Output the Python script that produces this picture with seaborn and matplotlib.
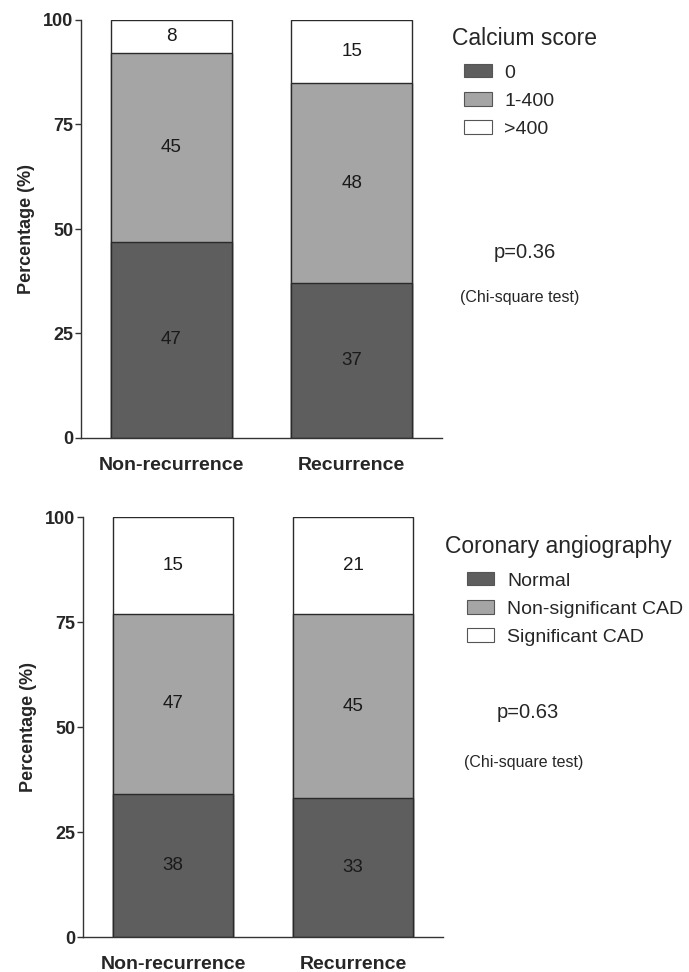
import numpy as np
import pandas as pd
import matplotlib
matplotlib.use("Agg")
import matplotlib.pyplot as plt
from matplotlib.patches import Patch
from matplotlib.offsetbox import HPacker, DrawingArea
import seaborn as sns

# ---------------- data ----------------
groups = ["Non-recurrence", "Recurrence"]

calcium_levels = ["0", "1-400", ">400"]
calcium_zero = [47, 37]
calcium_mid = [45, 48]
calcium_high = [8, 15]
calcium_labels_zero = [47, 37]
calcium_labels_mid = [45, 48]
calcium_labels_high = [8, 15]

angio_levels = ["Normal", "Non-significant CAD", "Significant CAD"]
angio_normal = [34, 33]        # bar heights as drawn
angio_nonsig = [43, 44]
angio_sig = [23, 23]
angio_labels_normal = [38, 33]  # numbers printed on bars
angio_labels_nonsig = [47, 45]
angio_labels_sig = [15, 21]

yticks = [0, 25, 50, 75, 100]
p_texts = ["p=0.36", "p=0.63"]
test_text = "(Chi-square test)"
legend_titles = ["Calcium score", "Coronary angiography"]

# ---------------- style ----------------
sns.set_theme(style="white")
plt.rcParams["font.family"] = ["Liberation Sans", "DejaVu Sans"]

colors = ["#5e5e5e", "#a5a5a5", "#ffffff"]
edge = "#2a2a2a"

fig = plt.figure(figsize=(6.89, 9.72), dpi=100)
ax_top = fig.add_axes([81 / 689, 1 - 438 / 972, 361 / 689, 418 / 972])
ax_bot = fig.add_axes([83 / 689, 1 - 937 / 972, 360 / 689, 420 / 972])


def draw_panel(ax, segs, labels, levels, title, ptxt, legend_xy, indent, p_xy, t_xy):
    segs = np.array(segs, dtype=float)
    cum = np.cumsum(segs, axis=0)
    # draw from the top (largest cumulative) down so stacks overlap correctly
    for i in range(len(levels) - 1, -1, -1):
        df = pd.DataFrame({"group": groups, "value": cum[i]})
        sns.barplot(data=df, x="group", y="value", order=groups, color=colors[i],
                    saturation=1, edgecolor=edge, linewidth=1.0, width=0.67,
                    errorbar=None, ax=ax)
    # value labels at segment centers
    bottoms = cum - segs
    for i in range(len(levels)):
        for j in range(len(groups)):
            yc = bottoms[i, j] + segs[i, j] / 2
            ax.text(j, yc, str(labels[i][j]), ha="center", va="center",
                    fontsize=13.5, color="#1a1a1a")
    ax.set_xlim(-0.5, 1.5)
    ax.set_ylim(0, 100)
    ax.set_yticks(yticks)
    ax.set_yticklabels([str(t) for t in yticks], fontweight="bold", fontsize=13)
    ax.set_xlabel("")
    ax.set_ylabel("Percentage (%)", fontweight="bold", fontsize=13, labelpad=6)
    for lab in ax.get_xticklabels():
        lab.set_fontweight("bold")
        lab.set_fontsize(14)
    ax.tick_params(axis="x", length=0, pad=14)
    ax.tick_params(axis="y", length=4.5, width=1, color="#333333", pad=1, left=True)
    sns.despine(ax=ax)
    for s in ["left", "bottom"]:
        ax.spines[s].set_color("#333333")
        ax.spines[s].set_linewidth(1.0)
    handles = [Patch(facecolor=colors[k], edgecolor="#555555", linewidth=0.8, label=levels[k])
               for k in range(len(levels))]
    leg = fig.legend(handles=handles, title=title, loc="upper left",
                     bbox_to_anchor=legend_xy, bbox_transform=fig.transFigure,
                     frameon=False, fontsize=14, title_fontsize=16.5,
                     handlelength=1.4, handleheight=0.7, handletextpad=0.65,
                     labelspacing=0.55, alignment="left", borderpad=0,
                     borderaxespad=0)
    leg._legend_box.sep = 10
    # indent the entries under the title
    leg._legend_box._children[1] = HPacker(
        pad=0, sep=0, children=[DrawingArea(indent, 1), leg._legend_handle_box],
        align="top")
    fig.text(p_xy[0], p_xy[1], ptxt, fontsize=14.5, ha="left", va="center")
    fig.text(t_xy[0], t_xy[1], test_text, fontsize=11.5, ha="left", va="center")
    return leg


draw_panel(ax_top,
           [calcium_zero, calcium_mid, calcium_high],
           [calcium_labels_zero, calcium_labels_mid, calcium_labels_high],
           calcium_levels, legend_titles[0], p_texts[0],
           (452 / 689, 1 - 27 / 972), 9, (494 / 689, 1 - 252 / 972), (460 / 689, 1 - 297 / 972))

draw_panel(ax_bot,
           [angio_normal, angio_nonsig, angio_sig],
           [angio_labels_normal, angio_labels_nonsig, angio_labels_sig],
           angio_levels, legend_titles[1], p_texts[1],
           (445 / 689, 1 - 535 / 972), 16, (497 / 689, 1 - 713 / 972), (464 / 689, 1 - 762 / 972))

fig.savefig("out.png", dpi=100, facecolor="white")
